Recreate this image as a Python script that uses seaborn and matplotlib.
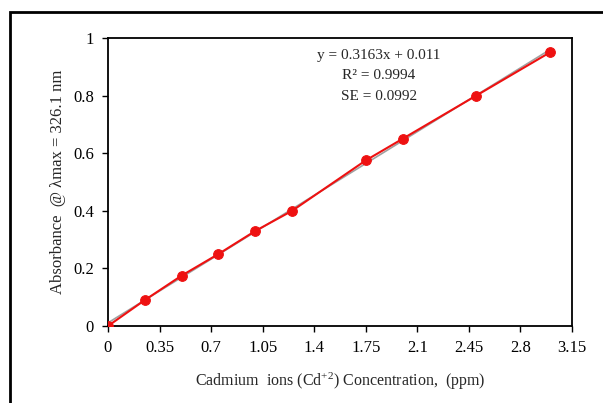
import matplotlib
matplotlib.use("Agg")
import matplotlib.pyplot as plt
import seaborn as sns
import pandas as pd
from matplotlib.patches import Rectangle

conc = [0, 0.25, 0.5, 0.75, 1.0, 1.25, 1.75, 2.0, 2.5, 3.0]
absorb = [0.0, 0.09, 0.175, 0.25, 0.33, 0.40, 0.575, 0.65, 0.80, 0.95]
xticks = [0, 0.35, 0.7, 1.05, 1.4, 1.75, 2.1, 2.45, 2.8, 3.15]
xticklabels = ["0", "0.35", "0.7", "1.05", "1.4", "1.75", "2.1", "2.45", "2.8", "3.15"]
yticks = [0, 0.2, 0.4, 0.6, 0.8, 1.0]
yticklabels = ["0", "0.2", "0.4", "0.6", "0.8", "1"]
eq_lines = ["y = 0.3163x + 0.011", "R² = 0.9994", "SE = 0.0992"]

df = pd.DataFrame({"conc": conc, "abs": absorb})

sns.set_style("ticks")
plt.rcParams['font.family'] = ['Liberation Serif', 'DejaVu Serif']
plt.rcParams['mathtext.default'] = 'regular'

fig = plt.figure(figsize=(6.03, 4.03), dpi=100)
ax = fig.add_axes([108/603, 1-326/403, (572-108)/603, (326-38)/403])

sns.regplot(data=df, x="conc", y="abs", ci=None, scatter=False, ax=ax,
            line_kws=dict(color="#a0a0a0", lw=1.2), truncate=True)
sns.lineplot(data=df, x="conc", y="abs", ax=ax, color="#ee1111", lw=1.5,
             marker="o", markersize=7, markeredgecolor="#ee1111", zorder=3)

ax.set_xlim(0, 3.15)
ax.set_ylim(0, 1)
ax.set_xticks(xticks)
ax.set_xticklabels(xticklabels)
ax.set_yticks(yticks)
ax.set_yticklabels(yticklabels)
ax.tick_params(direction="out", length=4, width=1, colors="black", labelsize=12, pad=6)
for s in ax.spines.values():
    s.set_visible(True)
    s.set_linewidth(1.3)
    s.set_color("black")

ax.set_xlabel("Cadmium  ions (Cd$^{+2}$) Concentration,  (ppm)", fontsize=11.5, labelpad=11)
ax.set_ylabel("Absorbance  @ λmax = 326.1 nm", fontsize=12, labelpad=5)

for i, t in enumerate(eq_lines):
    ax.text(379/603, 1 - (55 + i*20.5)/403, t, transform=fig.transFigure,
            ha="center", va="center", fontsize=11)

fig.patches.append(Rectangle((10/603, -0.05), 1.2, 1 - 12/403 + 0.05,
                             transform=fig.transFigure, fill=False,
                             edgecolor="black", lw=2, zorder=10))

fig.savefig("out.png", dpi=100)
